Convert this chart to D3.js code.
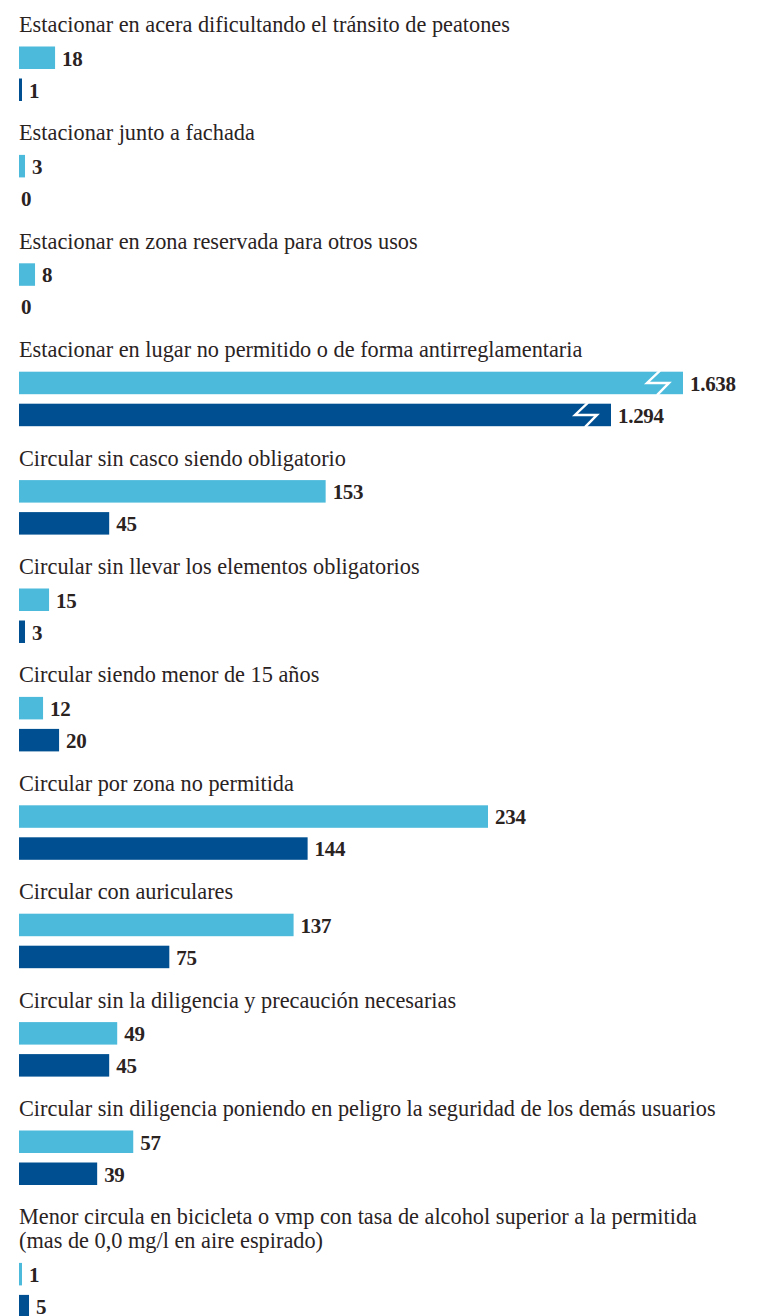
<!DOCTYPE html>
<html>
<head>
<meta charset="utf-8">
<script src="https://cdn.jsdelivr.net/npm/d3@7"></script>
<style>
  html, body { margin: 0; padding: 0; background: #ffffff; }
  svg { display: block; }
</style>
</head>
<body>
<div id="chart"></div>
<script>
// ---- Data ----
const categories = [
  ["Estacionar en acera dificultando el tránsito de peatones"],
  ["Estacionar junto a fachada"],
  ["Estacionar en zona reservada para otros usos"],
  ["Estacionar en lugar no permitido o de forma antirreglamentaria"],
  ["Circular sin casco siendo obligatorio"],
  ["Circular sin llevar los elementos obligatorios"],
  ["Circular siendo menor de 15 años"],
  ["Circular por zona no permitida"],
  ["Circular con auriculares"],
  ["Circular sin la diligencia y precaución necesarias"],
  ["Circular sin diligencia poniendo en peligro la seguridad de los demás usuarios"],
  ["Menor circula en bicicleta o vmp con tasa de alcohol superior a la permitida", "(mas de 0,0 mg/l en aire espirado)"]
];
const seriesA = [18, 3, 8, 1638, 153, 15, 12, 234, 137, 49, 57, 1];
const seriesB = [1, 0, 0, 1294, 45, 3, 20, 144, 75, 45, 39, 5];
const valueLabelsA = ["18", "3", "8", "1.638", "153", "15", "12", "234", "137", "49", "57", "1"];
const valueLabelsB = ["1", "0", "0", "1.294", "45", "3", "20", "144", "75", "45", "39", "5"];

// ---- Layout ----
const W = 763, H = 1316;
const x0 = 19;
const groupStep = 108.4;
const firstBarTop = 46.5;
const lineH = 24;
const barH = 22.5;
const barOffset = 32;
const breakAt = 1000;
const colorA = "#4cbadb";
const colorB = "#005091";
const textColor = "#2a231f";
const font = "'Liberation Serif', 'Times New Roman', serif";

const x = d3.scaleLinear().domain([0, 234]).range([x0, x0 + 469]);
// compressed scale for broken bars
const xBroken = d3.scaleLinear().domain([1294, 1638]).range([611, 683]);

function barWidth(v) {
  if (v <= 0) return 0;
  const end = v > breakAt ? xBroken(v) : x(v);
  return Math.max(3, end - x0);
}

const svg = d3.select("#chart").append("svg")
  .attr("width", W).attr("height", H)
  .attr("viewBox", `0 0 ${W} ${H}`);

const data = categories.map((lines, i) => ({
  lines, a: seriesA[i], b: seriesB[i], la: valueLabelsA[i], lb: valueLabelsB[i], i
}));

let extra = 0;
data.forEach(d => {
  d.barTop = firstBarTop + d.i * groupStep + extra + (d.lines.length - 1) * lineH;
  d.titleY = firstBarTop + d.i * groupStep + extra - 14.5;
  extra += (d.lines.length - 1) * lineH;
});

const g = svg.selectAll("g.group").data(data).join("g").attr("class", "group");

g.append("text")
  .attr("x", x0)
  .attr("y", d => d.titleY)
  .attr("font-family", font)
  .attr("font-size", 22.3)
  .attr("fill", textColor)
  .selectAll("tspan").data(d => d.lines).join("tspan")
  .attr("x", x0)
  .attr("dy", (t, j) => j === 0 ? 0 : lineH)
  .text(t => t);

const rows = g.selectAll("g.row").data(d => [
  { v: d.a, l: d.la, top: d.barTop, c: colorA },
  { v: d.b, l: d.lb, top: d.barTop + barOffset, c: colorB }
]).join("g").attr("class", "row");

rows.append("rect")
  .attr("x", x0)
  .attr("y", r => r.top)
  .attr("width", r => barWidth(r.v))
  .attr("height", barH)
  .attr("fill", r => r.c);

// break symbol (lightning zigzag) for broken bars
rows.filter(r => r.v > breakAt).append("path")
  .attr("d", r => {
    const e = x0 + barWidth(r.v);
    const c = e - 25;
    const t = r.top - 1, m = r.top + barH / 2, b = r.top + barH + 1;
    return `M${c + 2},${t} L${c - 11},${m} L${c + 11},${m} L${c - 1},${b}`;
  })
  .attr("fill", "none")
  .attr("stroke", "#ffffff")
  .attr("stroke-width", 2.4)
  .attr("stroke-linejoin", "miter");

rows.append("text")
  .attr("x", r => r.v > 0 ? x0 + barWidth(r.v) + 7 : x0 + 2)
  .attr("y", r => r.top + 19)
  .attr("font-family", font)
  .attr("font-size", 21)
  .attr("font-weight", "bold")
  .attr("letter-spacing", -0.3)
  .attr("fill", textColor)
  .text(r => r.l);
</script>
</body>
</html>
